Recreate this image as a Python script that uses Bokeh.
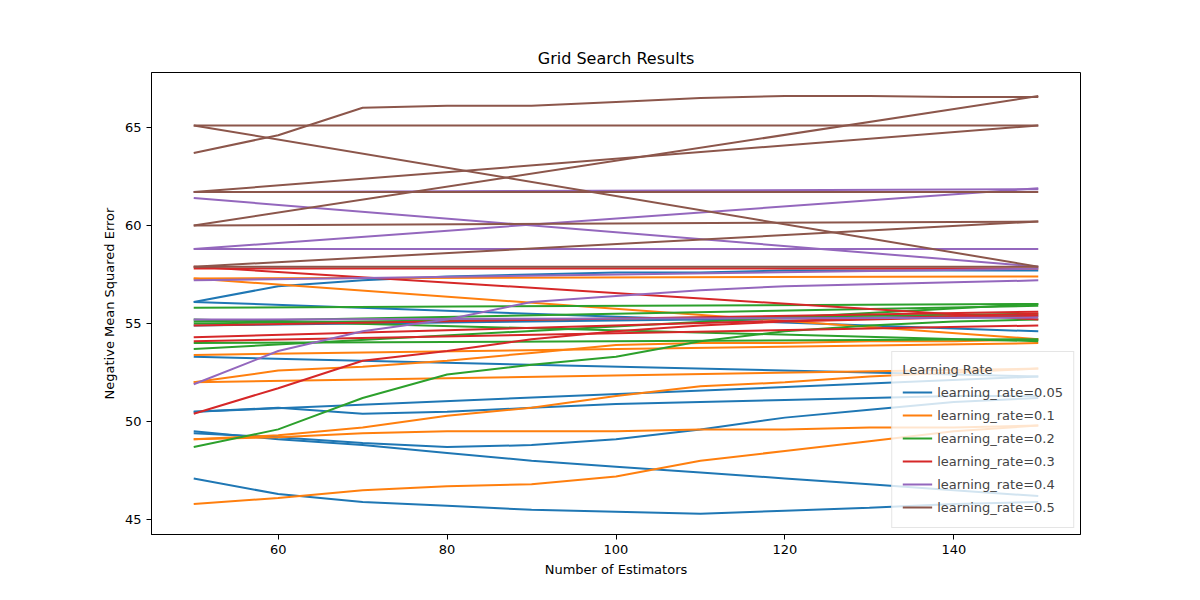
from bokeh.plotting import figure
from bokeh.models import Range1d, FixedTicker, Legend, LegendItem
from bokeh.embed import file_html
from bokeh.resources import INLINE

n_estimators = [50, 60, 70, 80, 90, 100, 110, 120, 130, 140, 150]
ends = [50, 150]

rates = ["0.05", "0.1", "0.2", "0.3", "0.4", "0.5"]
colors = ["#1f77b4", "#ff7f0e", "#2ca02c", "#d62728", "#9467bd", "#8c564b"]

# each run: (x values, y values)
lr_005 = [
    (n_estimators, [47.1, 46.3, 45.9, 45.7, 45.5, 45.4, 45.3, 45.45, 45.6, 45.8, 45.9]),
    (n_estimators, [49.5, 49.1, 48.8, 48.4, 48.0, 47.7, 47.4, 47.1, 46.8, 46.5, 46.2]),
    (n_estimators, [49.4, 49.2, 48.9, 48.7, 48.8, 49.1, 49.6, 50.2, 50.6, 51.0, 51.2]),
    (n_estimators, [50.5, 50.7, 50.4, 50.5, 50.7, 50.9, 51.0, 51.1, 51.2, 51.3, 51.3]),
    (ends, [50.5, 52.3]),
    (ends, [53.3, 52.3]),
    (ends, [56.1, 54.6]),
    (n_estimators, [56.1, 56.9, 57.2, 57.4, 57.5, 57.6, 57.6, 57.7, 57.7, 57.7, 57.7]),
    (ends, [54.9, 55.4]),
]
lr_01 = [
    (n_estimators, [45.8, 46.1, 46.5, 46.7, 46.8, 47.2, 48.0, 48.5, 49.0, 49.5, 49.8]),
    (n_estimators, [49.1, 49.2, 49.4, 49.5, 49.5, 49.5, 49.6, 49.6, 49.7, 49.7, 49.8]),
    (n_estimators, [49.1, 49.3, 49.7, 50.3, 50.7, 51.3, 51.8, 52.0, 52.3, 52.5, 52.7]),
    (ends, [52.0, 52.7]),
    (n_estimators, [52.0, 52.6, 52.8, 53.1, 53.5, 53.9, 54.0, 54.0, 54.1, 54.1, 54.2]),
    (ends, [53.4, 54.0]),
    (ends, [57.3, 57.4]),
    (ends, [57.3, 54.2]),
]
lr_02 = [
    (n_estimators, [48.7, 49.6, 51.2, 52.4, 52.9, 53.3, 54.1, 54.6, 54.9, 55.1, 55.2]),
    (ends, [55.8, 56.0]),
    (ends, [55.2, 54.1]),
    (ends, [53.7, 56.0]),
    (ends, [54.0, 54.2]),
    (ends, [55.0, 55.5]),
    (ends, [55.1, 55.9]),
]
lr_03 = [
    (n_estimators, [50.4, 51.7, 53.1, 53.6, 54.2, 54.6, 54.9, 55.1, 55.2, 55.3, 55.4]),
    (ends, [57.9, 55.2]),
    (ends, [54.9, 55.6]),
    (ends, [54.3, 55.5]),
    (ends, [54.1, 54.9]),
    (ends, [57.8, 57.8]),
]
lr_04 = [
    (n_estimators, [51.9, 53.6, 54.6, 55.2, 56.1, 56.4, 56.7, 56.9, 57.0, 57.1, 57.2]),
    (ends, [55.2, 55.3]),
    (ends, [57.2, 57.8]),
    (ends, [58.8, 58.8]),
    (ends, [58.8, 61.9]),
    (ends, [61.4, 57.9]),
    (ends, [61.7, 61.85]),
]
lr_05 = [
    (n_estimators, [63.7, 64.6, 66.0, 66.1, 66.1, 66.3, 66.5, 66.6, 66.6, 66.55, 66.55]),
    (ends, [65.1, 65.1]),
    (ends, [65.1, 57.9]),
    (ends, [60.0, 66.6]),
    (ends, [61.7, 65.1]),
    (ends, [61.7, 61.7]),
    (ends, [60.0, 60.2]),
    (ends, [57.9, 60.2]),
    (ends, [57.9, 57.9]),
]
runs = [lr_005, lr_01, lr_02, lr_03, lr_04, lr_05]

p = figure(frame_width=929, frame_height=462, output_backend="svg", toolbar_location=None,
           x_range=Range1d(45, 155), y_range=Range1d(44.24, 67.8),
           min_border_left=151, min_border_right=100, min_border_top=72, min_border_bottom=50,
           title="Grid Search Results")
p.title.align = "center"
p.title.text_font = "DejaVu Sans"
p.title.text_font_size = "16px"
p.title.text_font_style = "normal"
p.title.text_color = "black"
p.xgrid.visible = False
p.ygrid.visible = False
p.outline_line_color = "black"
p.xaxis.ticker = FixedTicker(ticks=[60, 80, 100, 120, 140])
p.yaxis.ticker = FixedTicker(ticks=[45, 50, 55, 60, 65])
p.xaxis.axis_label = "Number of Estimators"
p.yaxis.axis_label = "Negative Mean Squared Error"
for ax in (p.xaxis, p.yaxis):
    ax.axis_label_text_font = "DejaVu Sans"
    ax.axis_label_text_font_style = "normal"
    ax.axis_label_text_font_size = "13px"
    ax.axis_label_text_color = "black"
    ax.major_label_text_font = "DejaVu Sans"
    ax.major_label_text_font_size = "13px"
    ax.major_label_text_color = "black"
    ax.minor_tick_line_color = None
    ax.major_tick_out = 5
    ax.major_tick_in = 0

items = []
for rate, color, group in zip(rates, colors, runs):
    renderers = []
    for xs, ys in group:
        renderers.append(p.line(xs, ys, color=color, line_width=2))
    items.append(LegendItem(label="learning_rate=" + rate, renderers=[renderers[0]]))

legend = Legend(items=items, location="bottom_right", title="Learning Rate")
legend.title_text_font = "DejaVu Sans"
legend.title_text_font_style = "normal"
legend.title_text_font_size = "13px"
legend.label_text_font = "DejaVu Sans"
legend.label_text_font_size = "13px"
legend.border_line_color = "#cccccc"
legend.background_fill_alpha = 0.8
legend.spacing = 3
legend.glyph_width = 30
legend.margin = 6
p.add_layout(legend)

open("out.html", "w").write(file_html(p, INLINE))
